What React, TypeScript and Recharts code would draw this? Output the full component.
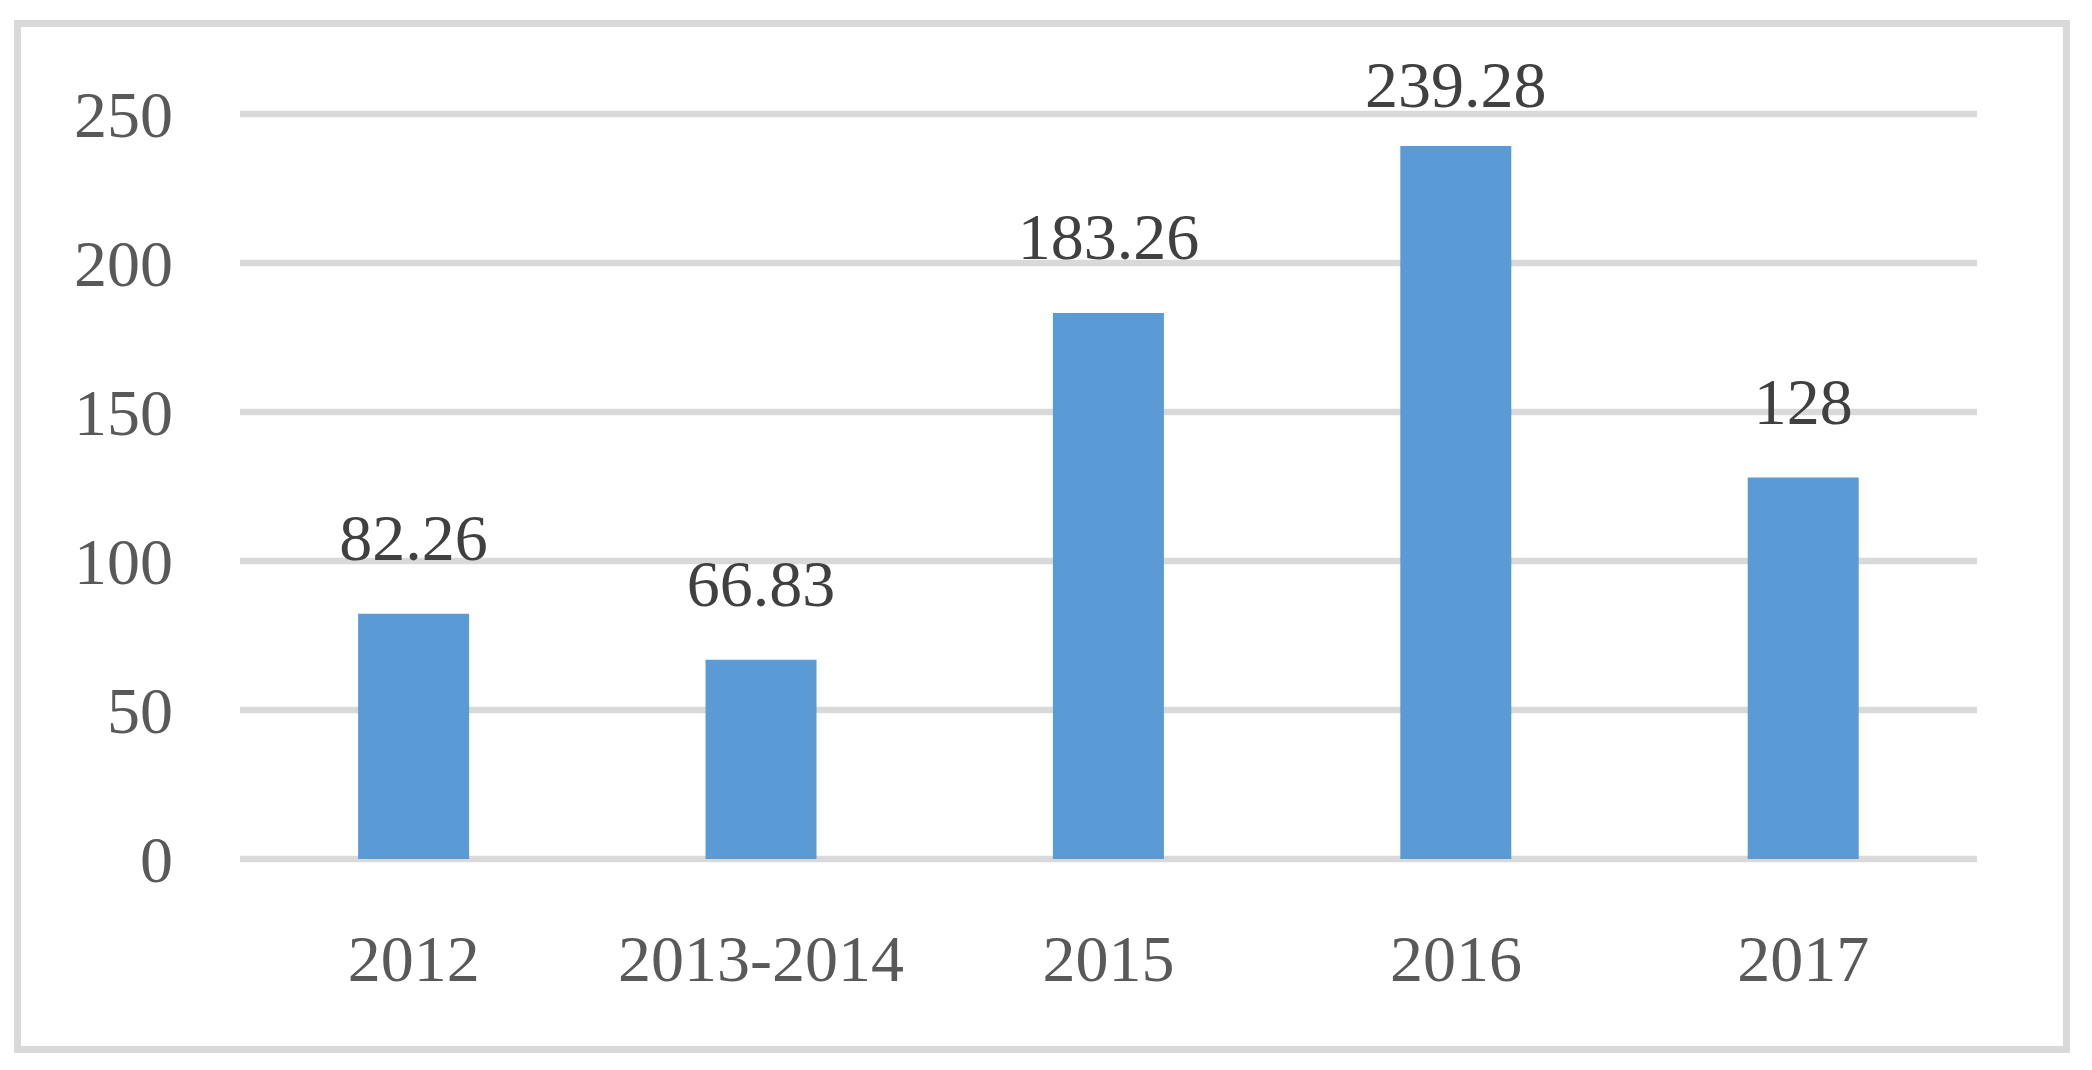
import React from "react";
import { BarChart, Bar, XAxis, YAxis, CartesianGrid, LabelList } from "recharts";

const categories = ["2012", "2013-2014", "2015", "2016", "2017"];
const values = [82.26, 66.83, 183.26, 239.28, 128];
const yTicks = [0, 50, 100, 150, 200, 250];

const data = categories.map((name, i) => ({ name, value: values[i] }));

const FONT = "'Liberation Serif', 'Times New Roman', serif";

// labels sit 54px above the bar, but are kept from running off the top of the plot
const renderLabel = (props: any) => {
  const { x, y, width, value } = props;
  const baseline = Math.max(y - 54, 80);
  return (
    <text
      x={x + width / 2}
      y={baseline}
      textAnchor="middle"
      fill="#404040"
      fontSize={66}
      fontFamily={FONT}
    >
      {value}
    </text>
  );
};

const App: React.FC = () => {
  return (
    <div
      style={{
        marginLeft: 6,
        marginTop: 12,
        width: 2042,
        height: 1019,
        border: "7px solid #d9d9d9",
        background: "#fff",
      }}
    >
      <BarChart
        width={2042}
        height={1019}
        data={data}
        margin={{ top: 87, right: 86, left: 0, bottom: 112 }}
        barCategoryGap="34%"
        style={{ fontFamily: FONT }}
      >
        <CartesianGrid vertical={false} stroke="#d9d9d9" strokeWidth={6.5} />
        <XAxis
          dataKey="name"
          axisLine={false}
          tickLine={false}
          tickSize={0}
          tickMargin={75}
          height={75}
          tick={{ fill: "#595959", fontSize: 66, fontFamily: FONT }}
        />
        <YAxis
          domain={[0, 250]}
          ticks={yTicks}
          axisLine={false}
          tickLine={false}
          tickSize={0}
          tickMargin={67}
          width={219}
          tick={{ fill: "#595959", fontSize: 66, fontFamily: FONT }}
        />
        <Bar dataKey="value" fill="#5b9bd5" isAnimationActive={false}>
          <LabelList dataKey="value" content={renderLabel} />
        </Bar>
      </BarChart>
    </div>
  );
};

export default App;
